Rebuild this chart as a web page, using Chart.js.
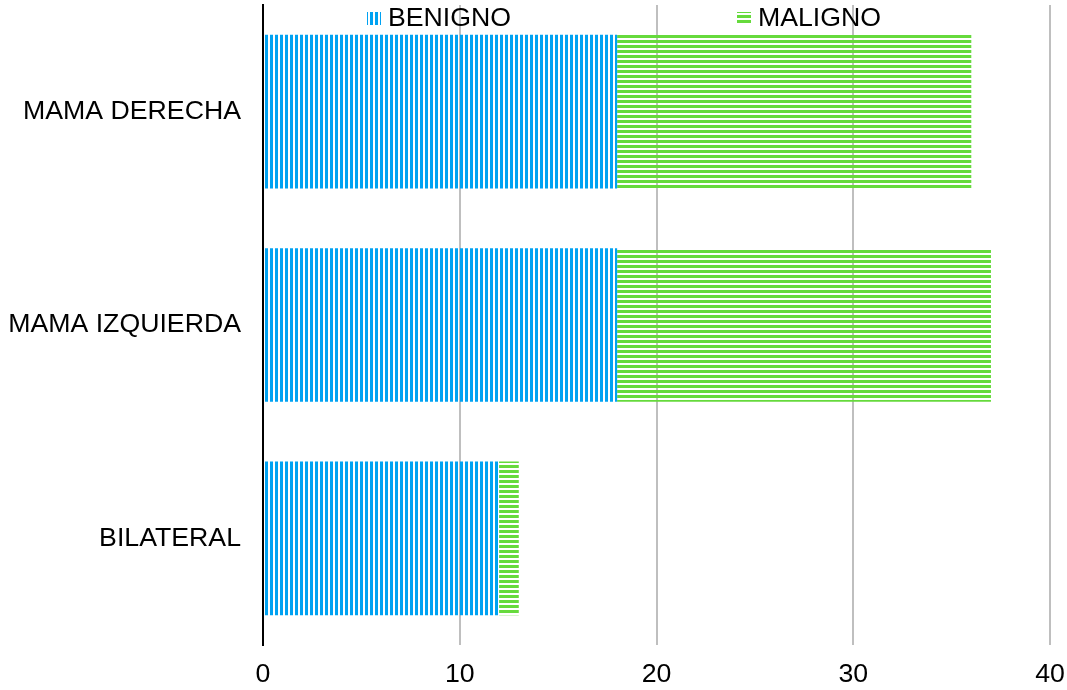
<!DOCTYPE html>
<html lang="es">

<head>
    <meta charset="UTF-8">
    <meta name="viewport" content="width=device-width, initial-scale=1.0">
    <script src="https://cdn.jsdelivr.net/npm/chart.js"></script>
    <title>Localización</title>
    <style>
        body { margin: 0; background: #fff; }
        .caja { width: 1067px; height: 690px; }
    </style>
</head>

<body>
    <div class="caja">
        <canvas id="myChart"></canvas>
    </div>
</body>

</html>

<script>
// datos del grafico
let categorias = ['MAMA DERECHA', 'MAMA IZQUIERDA', 'BILATERAL'];
let benigno = [18, 18, 12];
let maligno = [18, 19, 1];
let nombresSeries = ['BENIGNO', 'MALIGNO'];

const AZUL = '#00A2F2';
const VERDE = '#66DA3C';
const FUENTE = '"Liberation Sans", Arial, sans-serif';

// rayas verticales (azul) y horizontales (verde)
function crearPatron(color, vertical) {
    let c = document.createElement('canvas');
    c.width = 5;
    c.height = 5;
    let cx = c.getContext('2d');
    cx.fillStyle = color;
    if (vertical) {
        cx.fillRect(0, 0, 3, 5);
    } else {
        cx.fillRect(0, 0, 5, 3);
    }
    return cx.createPattern(c, 'repeat');
}

let ctx = document.getElementById('myChart').getContext('2d');
let patronAzul = crearPatron(AZUL, true);
let patronVerde = crearPatron(VERDE, false);

// leyenda dibujada a mano, arriba sobre el area del grafico
const leyenda = {
    id: 'leyenda',
    afterDraw(chart) {
        let c = chart.ctx;
        let items = [
            { x: 367, patron: patronAzul, texto: nombresSeries[0] },
            { x: 737, patron: patronVerde, texto: nombresSeries[1] }
        ];
        c.save();
        c.font = '26.7px ' + FUENTE;
        c.textBaseline = 'middle';
        items.forEach(function (it) {
            c.fillStyle = '#fff';
            c.fillRect(it.x, 12, 14, 13);
            c.fillStyle = it.patron;
            c.fillRect(it.x, 12, 14, 13);
            c.fillStyle = '#000';
            c.fillText(it.texto, it.x + 21, 19);
        });
        c.restore();
    }
};

const config = {
    type: 'bar',
    data: {
        labels: categorias,
        datasets: [{
            label: nombresSeries[0],
            data: benigno,
            backgroundColor: patronAzul,
            borderWidth: 0,
            barPercentage: 0.72,
            categoryPercentage: 1
        }, {
            label: nombresSeries[1],
            data: maligno,
            backgroundColor: patronVerde,
            borderWidth: 0,
            barPercentage: 0.72,
            categoryPercentage: 1
        }]
    },
    options: {
        indexAxis: 'y',
        responsive: true,
        maintainAspectRatio: false,
        animation: false,
        layout: {
            autoPadding: false,
            padding: { top: 5, right: 17, left: 8, bottom: 0 }
        },
        plugins: {
            legend: { display: false },
            tooltip: { enabled: false }
        },
        scales: {
            x: {
                stacked: true,
                min: 0,
                max: 40,
                ticks: {
                    stepSize: 10,
                    padding: 14,
                    color: '#000',
                    font: { family: FUENTE, size: 26.7 }
                },
                grid: {
                    color: '#BFBFBF',
                    lineWidth: 2,
                    drawTicks: false
                },
                border: { display: false },
                afterFit: function (scale) {
                    scale.height = 45;
                    scale.paddingLeft = 0;
                    scale.paddingRight = 0;
                }
            },
            y: {
                stacked: true,
                ticks: {
                    padding: 22,
                    color: '#000',
                    font: { family: FUENTE, size: 26.7 }
                },
                grid: { display: false, drawTicks: false },
                border: { display: true, color: '#000', width: 2 },
                afterFit: function (scale) {
                    scale.width = 255;
                    scale.paddingTop = 0;
                    scale.paddingBottom = 0;
                }
            }
        }
    },
    plugins: [leyenda]
};

let myChart = new Chart(ctx, config);
</script>
